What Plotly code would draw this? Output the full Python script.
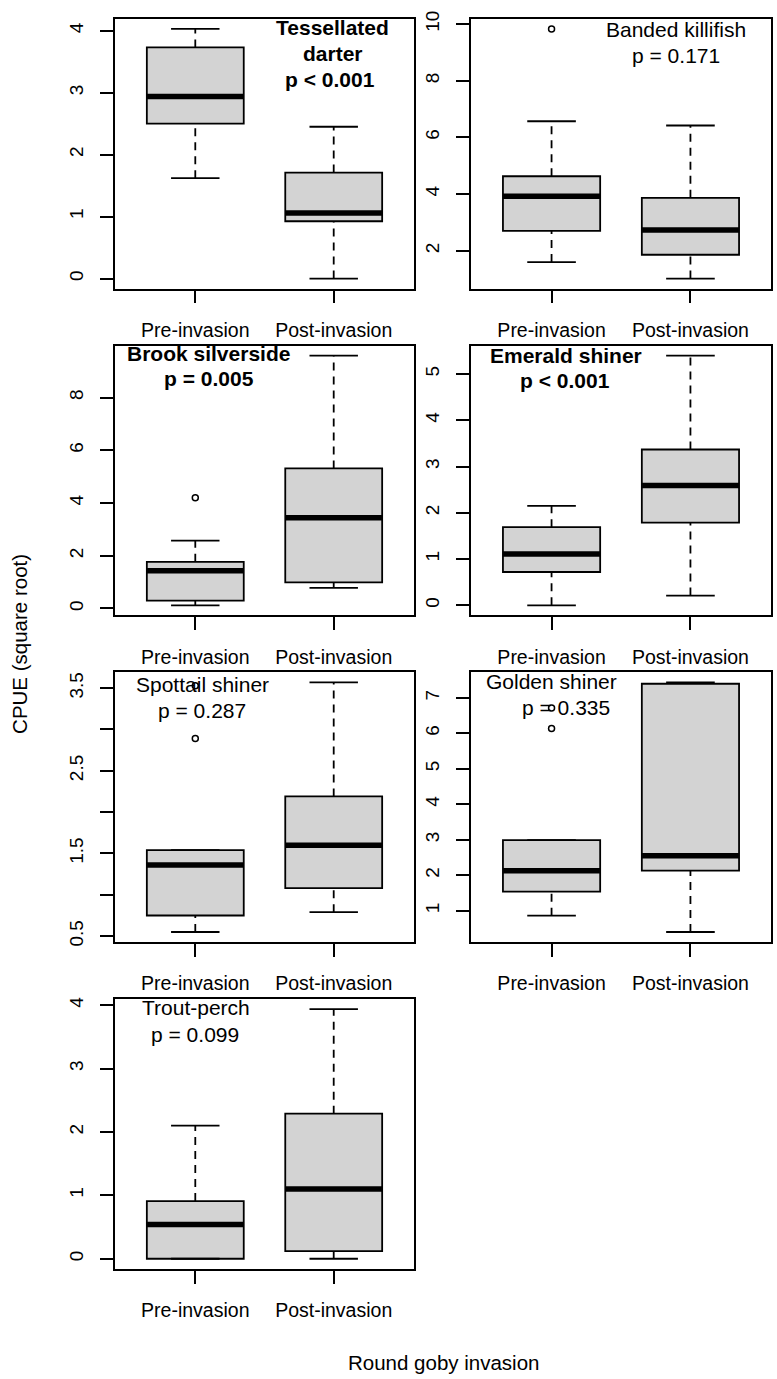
import plotly.graph_objects as go

# ---------------- data ----------------
species = ["Tessellated darter", "Banded killifish", "Brook silverside", "Emerald shiner",
           "Spottail shiner", "Golden shiner", "Trout-perch"]
p_values = ["p < 0.001", "p = 0.171", "p = 0.005", "p < 0.001", "p = 0.287", "p = 0.335", "p = 0.099"]
significant = [True, False, True, True, False, False, False]
groups = ["Pre-invasion", "Post-invasion"]

# [lower whisker, Q1, median, Q3, upper whisker]
pre_stats = [
    [1.62, 2.50, 2.94, 3.73, 4.03],
    [1.60, 2.70, 3.92, 4.63, 6.57],
    [0.12, 0.30, 1.43, 1.77, 2.57],
    [0.00, 0.72, 1.11, 1.69, 2.15],
    [0.55, 0.75, 1.36, 1.54, 1.54],
    [0.86, 1.54, 2.13, 2.99, 2.99],
    [0.00, 0.00, 0.54, 0.91, 2.10],
]
post_stats = [
    [0.00, 0.925, 1.06, 1.71, 2.45],
    [1.02, 1.86, 2.73, 3.87, 6.42],
    [0.78, 0.99, 3.44, 5.31, 9.59],
    [0.21, 1.79, 2.59, 3.37, 5.40],
    [0.79, 1.08, 1.60, 2.19, 3.57],
    [0.40, 2.13, 2.55, 7.40, 7.44],
    [0.00, 0.12, 1.10, 2.29, 3.94],
]
pre_outliers = [[], [9.83], [4.20], [], [2.89, 3.53], [6.14, 6.72], []]
post_outliers = [[], [], [], [], [], [], []]

y_tickvals = [
    [0, 1, 2, 3, 4],
    [2, 4, 6, 8, 10],
    [0, 2, 4, 6, 8],
    [0, 1, 2, 3, 4, 5],
    [0.5, 1.0, 1.5, 2.0, 2.5, 3.0, 3.5],
    [1, 2, 3, 4, 5, 6, 7],
    [0, 1, 2, 3, 4],
]
y_ticktext = [
    ["0", "1", "2", "3", "4"],
    ["2", "4", "6", "8", "10"],
    ["0", "2", "4", "6", "8"],
    ["0", "1", "2", "3", "4", "5"],
    ["0.5", "", "1.5", "", "2.5", "", "3.5"],
    ["1", "2", "3", "4", "5", "6", "7"],
    ["0", "1", "2", "3", "4"],
]
panel_lines = [
    ["Tessellated", "darter", p_values[0]],
    ["Banded killifish", p_values[1]],
    ["Brook silverside", p_values[2]],
    ["Emerald shiner", p_values[3]],
    ["Spottail shiner", p_values[4]],
    ["Golden shiner", p_values[5]],
    ["Trout-perch", p_values[6]],
]

# ---------------- layout helpers ----------------
W, H = 777, 1379
FONT = "Liberation Sans, Arial, sans-serif"
col_x = [(115, 414), (471, 771)]
row_top0, row_h, row_step = 11, 272, 329.6
LABEL_DY = -3

# label line centres (pixel) per panel
label_pos = [
    [(332, 22.5), (333, 49.0), (330, 75.0)],
    [(675.5, 24.7), (675.5, 51.0)],
    [(208.8, 351.7), (208.7, 376.7)],
    [(565.8, 353.3), (565.0, 378.3)],
    [(202.0, 685.0), (201.7, 711.7)],
    [(551.2, 682.5), (565.8, 708.8)],
    [(196.0, 1011.7), (195.3, 1038.3)],
]

def px2x(p):
    return p / W

def py2y(p):
    return 1 - p / H

fig = go.Figure()
BOX_HALF = 0.35
CAP_HALF = 0.175
LW = 1.8
annotations = []

for i in range(len(species)):
    r, c = divmod(i, 2)
    ax_id = "" if i == 0 else str(i + 1)
    xref, yref = "x" + ax_id, "y" + ax_id
    x0, x1 = col_x[c]
    top = row_top0 + r * row_step
    bot = top + row_h

    vals = pre_stats[i] + post_stats[i] + pre_outliers[i] + post_outliers[i]
    lo, hi = min(vals), max(vals)
    ext = (hi - lo) * 0.04
    yr = [lo - ext, hi + ext]

    fig.update_layout(**{
        "xaxis" + ax_id: dict(
            domain=[px2x(x0), px2x(x1)], anchor=yref, range=[0.42, 2.58],
            tickvals=[1, 2], ticktext=groups, ticks="outside", ticklen=13, tickwidth=LW,
            tickcolor="black", showline=True, mirror=True, linecolor="black", linewidth=LW,
            showgrid=False, zeroline=False, ticklabelstandoff=10,
            tickfont=dict(family=FONT, size=19.5, color="black")),
        "yaxis" + ax_id: dict(
            domain=[py2y(bot), py2y(top)], anchor=xref, range=yr,
            tickvals=y_tickvals[i], ticktext=y_ticktext[i], ticks="outside", ticklen=13,
            tickwidth=LW, tickcolor="black", tickangle=-90, showline=True, mirror=True,
            linecolor="black", linewidth=LW, showgrid=False, zeroline=False,
            ticklabelstandoff=10,
            tickfont=dict(family=FONT, size=19, color="black")),
    })

    for g, (stats, outs) in enumerate([(pre_stats[i], pre_outliers[i]), (post_stats[i], post_outliers[i])]):
        xc = g + 1
        lw, q1, med, q3, uw = stats
        # dashed whiskers
        for a, b in [(lw, q1), (q3, uw)]:
            fig.add_trace(go.Scatter(x=[xc, xc], y=[a, b], mode="lines", xaxis=xref, yaxis=yref,
                                     line=dict(color="black", width=LW, dash="8px,6px"),
                                     showlegend=False, hoverinfo="skip"))
        # caps
        for v in [lw, uw]:
            fig.add_trace(go.Scatter(x=[xc - CAP_HALF, xc + CAP_HALF], y=[v, v], mode="lines",
                                     xaxis=xref, yaxis=yref, line=dict(color="black", width=LW),
                                     showlegend=False, hoverinfo="skip"))
        # box body
        fig.add_trace(go.Box(x=[xc], q1=[q1], median=[med], q3=[q3], lowerfence=[q1], upperfence=[q3],
                             width=BOX_HALF * 2, whiskerwidth=0, fillcolor="#d3d3d3",
                             line=dict(color="black", width=LW), boxpoints=False,
                             xaxis=xref, yaxis=yref, showlegend=False, hoverinfo="skip"))
        # thick median
        fig.add_trace(go.Scatter(x=[xc - BOX_HALF, xc + BOX_HALF], y=[med, med], mode="lines",
                                 xaxis=xref, yaxis=yref, line=dict(color="black", width=5.5),
                                 showlegend=False, hoverinfo="skip"))
        # outliers
        if outs:
            fig.add_trace(go.Scatter(x=[xc] * len(outs), y=outs, mode="markers", xaxis=xref, yaxis=yref,
                                     marker=dict(symbol="circle-open", size=6, color="black",
                                                 line=dict(width=1.5, color="black")),
                                     showlegend=False, hoverinfo="skip"))

    for text, (lx, ly) in zip(panel_lines[i], label_pos[i]):
        t = "<b>" + text + "</b>" if significant[i] else text
        annotations.append(dict(x=px2x(lx), y=py2y(ly + LABEL_DY), xref="paper", yref="paper", text=t,
                                showarrow=False, xanchor="center", yanchor="middle",
                                font=dict(family=FONT, size=21, color="black")))

annotations.append(dict(x=px2x(20), y=py2y(641.5), xref="paper", yref="paper", text="CPUE (square root)",
                        textangle=-90, showarrow=False, xanchor="center", yanchor="middle",
                        font=dict(family=FONT, size=20.5, color="black")))
annotations.append(dict(x=px2x(443), y=py2y(1366), xref="paper", yref="paper", text="Round goby invasion",
                        showarrow=False, xanchor="center", yanchor="middle",
                        font=dict(family=FONT, size=20.5, color="black")))

fig.update_layout(width=W, height=H, margin=dict(l=0, r=0, t=0, b=0), paper_bgcolor="white",
                  plot_bgcolor="white", showlegend=False, annotations=annotations,
                  boxmode="overlay")

fig.write_html("out.html")
